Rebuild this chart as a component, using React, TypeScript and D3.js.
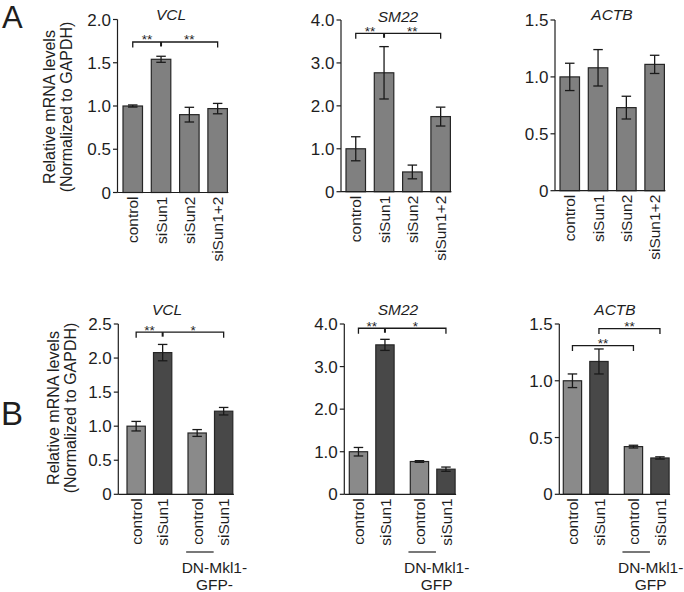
import React from 'react';
import * as d3 from 'd3';

// ---------- DATA ----------
const categoriesA = ['control', 'siSun1', 'siSun2', 'siSun1+2'];
const categoriesB = ['control', 'siSun1', 'control', 'siSun1'];
const groupsB = [0, 0, 1, 1];

const vclA = [1.0, 1.54, 0.9, 0.97];
const vclAErr = [0.012, 0.035, 0.085, 0.06];
const sm22A = [1.0, 2.77, 0.46, 1.75];
const sm22AErr = [0.28, 0.61, 0.16, 0.22];
const actbA = [1.0, 1.08, 0.73, 1.11];
const actbAErr = [0.12, 0.16, 0.1, 0.08];

const vclB = [1.0, 2.08, 0.9, 1.22];
const vclBErr = [0.07, 0.12, 0.05, 0.055];
const sm22B = [1.0, 3.51, 0.77, 0.59];
const sm22BErr = [0.1, 0.13, 0.02, 0.05];
const actbB = [1.0, 1.17, 0.42, 0.32];
const actbBErr = [0.06, 0.11, 0.012, 0.01];

const ticksVclA = [0, 0.5, 1.0, 1.5, 2.0];
const ticksSm22 = [0, 1.0, 2.0, 3.0, 4.0];
const ticksActb = [0, 0.5, 1.0, 1.5];
const ticksVclB = [0, 0.5, 1.0, 1.5, 2.0, 2.5];

// significance brackets
const sigVclA = [{ from: 0, to: 3, mid: 1, level: 1.74, labels: ['**', '**'] }];
const sigSm22A = [{ from: 0, to: 3, mid: 1, level: 3.69, labels: ['**', '**'] }];
const sigVclB = [{ from: 0, to: 3, mid: 1, level: 2.38, labels: ['**', '*'] }];
const sigSm22B = [{ from: 0, to: 3, mid: 1, level: 3.9, labels: ['**', '*'] }];
const sigActbB = [
  { from: 0, to: 2, mid: -1, level: 1.31, labels: ['**'] },
  { from: 1, to: 3, mid: -1, level: 1.46, labels: ['**'] },
];

const titles = ['VCL', 'SM22', 'ACTB'];
const groupLabelB = [['DN-Mkl1-', 'GFP-'], ['DN-Mkl1-', 'GFP'], ['DN-Mkl1-', 'GFP']];
const yTitle = ['Relative mRNA levels', '(Normalized to GAPDH)'];

// ---------- STYLE ----------
const FONT = "'Liberation Sans', Arial, Helvetica, sans-serif";
const INK = '#1e1e1e';
const GRAY_A = '#808080';
const LIGHT_B = '#8a8a8a';
const DARK_B = '#484848';

type Sig = { from: number; to: number; mid: number; level: number; labels: string[] };
type PanelProps = {
  cats: string[];
  values: number[];
  errs: number[];
  ticks: number[];
  max: number;
  axisX: number;
  yTop: number;
  yBottom: number;
  barStart: number;
  step: number;
  bw: number;
  groups: number[];
  gap: number;
  colors: string[];
  title: string;
  titleX: number;
  titleY: number;
  sig: Sig[];
  groupLabel?: string[];
};

function fmt(v: number) {
  return v === 0 ? '0' : d3.format('.1f')(v);
}

function Panel(p: PanelProps) {
  const y = d3.scaleLinear().domain([0, p.max]).range([p.yBottom, p.yTop]);
  const pad = 1 - p.bw / p.step;
  const r0 = p.barStart - (pad / 2) * p.step;
  const band = d3
    .scaleBand<number>()
    .domain(d3.range(p.cats.length))
    .range([r0, r0 + p.cats.length * p.step])
    .paddingInner(pad)
    .paddingOuter(pad / 2);
  const bx = (i: number) => (band(i) as number) + p.groups[i] * p.gap;
  const cx = (i: number) => bx(i) + band.bandwidth() / 2;
  const lastRight = bx(p.cats.length - 1) + band.bandwidth();
  const capW = 9.5;

  return (
    <g>
      <text x={p.titleX} y={p.titleY} fontSize={15.5} fontStyle="italic" textAnchor="middle" fill={INK}>
        {p.title}
      </text>
      {p.values.map((v, i) => (
        <rect
          key={'b' + i}
          x={bx(i)}
          y={y(v)}
          width={band.bandwidth()}
          height={y(0) - y(v)}
          fill={p.colors[i]}
          stroke="#262626"
          strokeWidth={1.2}
        />
      ))}
      {p.values.map((v, i) => {
        const t = y(v + p.errs[i]);
        const b = y(v - p.errs[i]);
        const c = cx(i);
        return (
          <g key={'e' + i} stroke="#1a1a1a" strokeWidth={1.3}>
            <line x1={c} x2={c} y1={t} y2={b} />
            <line x1={c - capW / 2} x2={c + capW / 2} y1={t} y2={t} />
            <line x1={c - capW / 2} x2={c + capW / 2} y1={b} y2={b} />
          </g>
        );
      })}
      <line x1={p.axisX} x2={p.axisX} y1={y(0)} y2={y(p.max)} stroke={INK} strokeWidth={1.2} />
      {p.ticks.map((t) => (
        <g key={'t' + t}>
          <line x1={p.axisX - 4.5} x2={p.axisX} y1={y(t)} y2={y(t)} stroke={INK} strokeWidth={1.2} />
          <text x={p.axisX - 6.5} y={y(t)} dy="0.36em" textAnchor="end" fontSize={17} fill={INK}>
            {fmt(t)}
          </text>
        </g>
      ))}
      <line x1={p.axisX} x2={lastRight + 1} y1={y(0)} y2={y(0)} stroke={INK} strokeWidth={1.2} />
      {p.cats.map((c, i) => (
        <text
          key={'c' + i}
          transform={`translate(${cx(i)},${y(0) + 4}) rotate(-90)`}
          textAnchor="end"
          dy="0.36em"
          fontSize={15.5}
          fill={INK}
        >
          {c}
        </text>
      ))}
      {p.sig.map((s, k) => {
        const yy = y(s.level);
        const x1 = cx(s.from);
        const x2 = cx(s.to);
        const segs = s.mid >= 0 ? [[x1, cx(s.mid)], [cx(s.mid), x2]] : [[x1, x2]];
        return (
          <g key={'s' + k}>
            <path
              d={`M${x1},${yy + 5.5}V${yy}H${x2}V${yy + 5.5}`}
              fill="none"
              stroke="#1a1a1a"
              strokeWidth={1.3}
            />
            {s.mid >= 0 && (
              <line x1={cx(s.mid)} x2={cx(s.mid)} y1={yy} y2={yy + 4.5} stroke="#1a1a1a" strokeWidth={2} />
            )}
            {segs.map((sg, j) => (
              <text key={j} x={(sg[0] + sg[1]) / 2} y={yy + 2.5} textAnchor="middle" fontSize={13.5} fill={INK}>
                {s.labels[j]}
              </text>
            ))}
          </g>
        );
      })}
      {p.groupLabel && (
        <g>
          <line x1={cx(2) - 11} x2={cx(3) - 10} y1={552} y2={552} stroke={INK} strokeWidth={1.2} />
          <text x={(cx(2) + cx(3)) / 2 + 4} y={573} textAnchor="middle" fontSize={15.5} fill={INK}>
            {p.groupLabel[0]}
          </text>
          <text x={(cx(2) + cx(3)) / 2 + 4} y={589.5} textAnchor="middle" fontSize={15.5} fill={INK}>
            {p.groupLabel[1]}
          </text>
        </g>
      )}
    </g>
  );
}

function YTitle({ x1, x2, cy }: { x1: number; x2: number; cy: number }) {
  return (
    <g fontSize={16} fill={INK}>
      <text transform={`translate(${x1},${cy}) rotate(-90)`} textAnchor="middle">
        {yTitle[0]}
      </text>
      <text transform={`translate(${x2},${cy}) rotate(-90)`} textAnchor="middle">
        {yTitle[1]}
      </text>
    </g>
  );
}

export default function App() {
  const colA = categoriesA.map(() => GRAY_A);
  const colB = groupsB.map((g, i) => (i % 2 === 0 ? LIGHT_B : DARK_B));
  const g0 = [0, 0, 0, 0];
  const commonA = { cats: categoriesA, step: 28.3, bw: 19.5, groups: g0, gap: 0, colors: colA };
  const commonB = {
    cats: categoriesB,
    step: 26.5,
    bw: 18.3,
    groups: groupsB,
    gap: 8,
    colors: colB,
    yTop: 324,
    yBottom: 494.3,
    titleY: 315,
  };
  return (
    <svg
      width={684}
      height={592}
      style={{ position: 'absolute', left: 0, top: 0, background: '#fff', fontFamily: FONT }}
      fontFamily={FONT}
    >
      <rect width={684} height={592} fill="#fff" />
      <text x={2} y={28} fontSize={31} fill={INK}>A</text>
      <text x={1} y={425} fontSize={33} fill={INK}>B</text>
      <YTitle x1={55} x2={72} cy={107} />
      <YTitle x1={59} x2={76} cy={408} />

      <Panel {...commonA} values={vclA} errs={vclAErr} ticks={ticksVclA} max={2}
        axisX={117.5} yTop={19.5} yBottom={192.5} barStart={123}
        title={titles[0]} titleX={171} titleY={19.5} sig={sigVclA} />
      <Panel {...commonA} values={sm22A} errs={sm22AErr} ticks={ticksSm22} max={4}
        axisX={341} yTop={20} yBottom={191.7} barStart={346}
        title={titles[1]} titleX={398} titleY={22} sig={sigSm22A} />
      <Panel {...commonA} values={actbA} errs={actbAErr} ticks={ticksActb} max={1.5}
        axisX={555} yTop={20} yBottom={190.7} barStart={560}
        title={titles[2]} titleX={612} titleY={20} sig={[]} />

      <Panel {...commonB} values={vclB} errs={vclBErr} ticks={ticksVclB} max={2.5}
        axisX={118.3} barStart={127} title={titles[0]} titleX={167} sig={sigVclB}
        groupLabel={groupLabelB[0]} />
      <Panel {...commonB} values={sm22B} errs={sm22BErr} ticks={ticksSm22} max={4}
        axisX={344.3} barStart={349.3} title={titles[1]} titleX={398} sig={sigSm22B}
        groupLabel={groupLabelB[1]} />
      <Panel {...commonB} values={actbB} errs={actbBErr} ticks={ticksActb} max={1.5}
        axisX={559.3} barStart={563.3} title={titles[2]} titleX={615} sig={sigActbB}
        groupLabel={groupLabelB[2]} />
    </svg>
  );
}
